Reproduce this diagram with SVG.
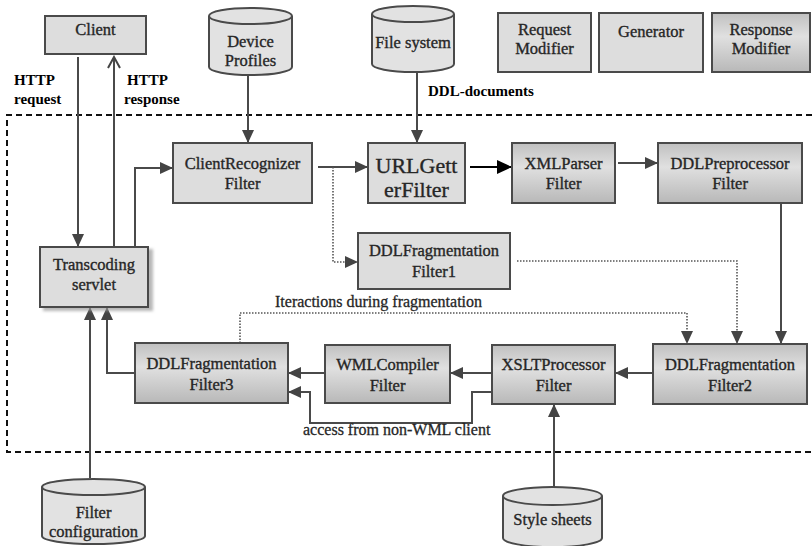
<svg xmlns="http://www.w3.org/2000/svg" width="812" height="546" viewBox="0 0 812 546">
<defs>
<style>
.box{fill:#dddddd;stroke:#4a4a4a;stroke-width:2}
.gbox{fill:url(#grad);stroke:#4a4a4a;stroke-width:2}
.cyl{fill:#e2e2e2;stroke:#4a4a4a;stroke-width:2}
.t{font-family:"Liberation Serif","Times New Roman",serif;font-size:16.5px;fill:#262626;stroke:#262626;stroke-width:0.35;text-anchor:middle}
.big{font-size:22px}
.lbl{font-family:"Liberation Serif","Times New Roman",serif;font-size:15px;font-weight:bold;fill:#000}
.note{font-family:"Liberation Serif","Times New Roman",serif;font-size:16px;fill:#262626;stroke:#262626;stroke-width:0.3}
.c{fill:none;stroke:#4a4a4a;stroke-width:2}
.d{fill:none;stroke:#555;stroke-width:1.6;stroke-dasharray:1.5 1.5}
.b{fill:none;stroke:#000;stroke-width:2}
</style>
<linearGradient id="grad" x1="0" y1="0" x2="0" y2="1">
<stop offset="0" stop-color="#c0c0c0"/>
<stop offset="0.4" stop-color="#e0e0e0"/>
<stop offset="1" stop-color="#b8b8b8"/>
</linearGradient>
<marker id="ah" markerWidth="14" markerHeight="12" refX="13" refY="6" orient="auto" markerUnits="userSpaceOnUse">
<path d="M0,0 L13,6 L0,12 z" fill="#444"/>
</marker>
<marker id="ahb" markerWidth="16" markerHeight="14" refX="15" refY="7" orient="auto" markerUnits="userSpaceOnUse">
<path d="M0,0 L15,7 L0,14 z" fill="#000"/>
</marker>
<marker id="ao" markerWidth="14" markerHeight="14" refX="12" refY="7" orient="auto" markerUnits="userSpaceOnUse">
<path d="M1,1 L12,7 L1,13" fill="none" stroke="#444" stroke-width="2"/>
</marker>
<filter id="sh" x="-10%" y="-10%" width="130%" height="130%">
<feDropShadow dx="4" dy="3" stdDeviation="1.5" flood-color="#999" flood-opacity="0.7"/>
</filter>
</defs>

<path d="M812,115 H7 V452 H812" fill="none" stroke="#111" stroke-width="2" stroke-dasharray="6 4"/>

<g id="connectors">
<path class="c" d="M78,57 V247" marker-end="url(#ah)"/>
<path class="c" d="M114,247 V57" marker-end="url(#ao)"/>
<path class="c" d="M135,247 V168 H173" marker-end="url(#ah)"/>
<path class="c" d="M248,75 V143" marker-end="url(#ah)"/>
<path class="c" d="M417,72 V143" marker-end="url(#ah)"/>
<path class="c" d="M318,167 H368" marker-end="url(#ah)"/>
<path class="d" d="M333,167 V262 H358" marker-end="url(#ah)"/>
<path class="b" d="M470,167 H512" stroke-width="2.5" marker-end="url(#ahb)"/>
<path class="c" d="M618,163 H658" marker-end="url(#ah)"/>
<path class="c" d="M781,203 V344" marker-end="url(#ah)"/>
<path class="d" d="M517,261 H737 V344" marker-end="url(#ah)"/>
<path class="d" d="M240,343 V313 H687 V344" marker-end="url(#ah)"/>
<path class="c" d="M653,373 H615" marker-end="url(#ah)"/>
<path class="c" d="M492,373 H450" marker-end="url(#ah)"/>
<path class="c" d="M325,373 H288" marker-end="url(#ah)"/>
<path class="c" d="M492,392 H472 V423 H310 V392 H288" marker-end="url(#ah)"/>
<path class="c" d="M135,373 H107 V307" marker-end="url(#ah)"/>
<path class="c" d="M90,478 V307" marker-end="url(#ah)"/>
<path class="c" d="M554,487 V404" marker-end="url(#ah)"/>
</g>

<g id="labels">
<text class="lbl" x="14" y="85">HTTP</text>
<text class="lbl" x="14" y="104">request</text>
<text class="lbl" x="127" y="85">HTTP</text>
<text class="lbl" x="124" y="104">response</text>
<text class="lbl" x="428" y="96">DDL-documents</text>
<text class="note" x="275" y="307">Iteractions during fragmentation</text>
<text class="note" x="303" y="435">access from non-WML client</text>
</g>

<g id="client"><rect class="box" x="45" y="16" width="101" height="38"/><text class="t" x="95.5" y="35">Client</text></g>

<g id="device-profiles">
<path class="cyl" d="M209,16 A41.5,8 0 0 1 292,16 V67 A41.5,8 0 0 1 209,67 Z"/>
<path class="cyl" d="M209,16 A41.5,8 0 0 0 292,16" fill="none"/>
<text class="t" x="250.5" y="47">Device</text><text class="t" x="250.5" y="66">Profiles</text>
</g>

<g id="file-system">
<path class="cyl" d="M372,14 A41,8 0 0 1 454,14 V64 A41,8 0 0 1 372,64 Z"/>
<path class="cyl" d="M372,14 A41,8 0 0 0 454,14" fill="none"/>
<text class="t" x="413" y="48">File system</text>
</g>

<g id="request-modifier"><rect class="box" x="498" y="13" width="93" height="59"/><text class="t" x="544.5" y="35">Request</text><text class="t" x="544.5" y="54">Modifier</text></g>
<g id="generator"><rect class="box" x="599" y="13" width="104" height="59"/><text class="t" x="651" y="37">Generator</text></g>
<g id="response-modifier"><rect class="gbox" x="712" y="13" width="98" height="59"/><text class="t" x="761" y="35">Response</text><text class="t" x="761" y="54">Modifier</text></g>

<g id="transcoding-servlet"><rect class="box" x="40" y="247" width="108" height="60" filter="url(#sh)"/><text class="t" x="94" y="270">Transcoding</text><text class="t" x="94" y="290">servlet</text></g>

<g id="client-recognizer"><rect class="box" x="173" y="143" width="139" height="60"/><text class="t" x="242.5" y="169">ClientRecognizer</text><text class="t" x="242.5" y="189">Filter</text></g>

<g id="urlgetter"><rect class="box" x="368" y="143" width="97" height="60"/><text class="t big" x="416.5" y="173">URLGett</text><text class="t big" x="416.5" y="197">erFilter</text></g>

<g id="xmlparser"><rect class="gbox" x="512" y="143" width="103" height="60"/><text class="t" x="563.5" y="169">XMLParser</text><text class="t" x="563.5" y="189">Filter</text></g>

<g id="ddlpreprocessor"><rect class="gbox" x="658" y="143" width="144" height="60"/><text class="t" x="730" y="169">DDLPreprocessor</text><text class="t" x="730" y="189">Filter</text></g>

<g id="ddlfragmentation1"><rect class="box" x="358" y="233" width="152" height="56"/><text class="t" x="434" y="256">DDLFragmentation</text><text class="t" x="434" y="277">Filter1</text></g>

<g id="ddlfragmentation2"><rect class="gbox" x="653" y="344" width="154" height="60"/><text class="t" x="730" y="370">DDLFragmentation</text><text class="t" x="730" y="391">Filter2</text></g>

<g id="xsltprocessor"><rect class="gbox" x="492" y="345" width="123" height="59"/><text class="t" x="553.5" y="370">XSLTProcessor</text><text class="t" x="553.5" y="391">Filter</text></g>

<g id="wmlcompiler"><rect class="gbox" x="325" y="345" width="125" height="58"/><text class="t" x="387.5" y="370">WMLCompiler</text><text class="t" x="387.5" y="391">Filter</text></g>

<g id="ddlfragmentation3"><rect class="gbox" x="135" y="343" width="153" height="60"/><text class="t" x="211.5" y="369">DDLFragmentation</text><text class="t" x="211.5" y="390">Filter3</text></g>

<g id="filter-configuration">
<path class="cyl" d="M42,487 A51.5,8 0 0 1 145,487 V536 A51.5,8 0 0 1 42,536 Z"/>
<path class="cyl" d="M42,487 A51.5,8 0 0 0 145,487" fill="none"/>
<text class="t" x="93.5" y="518">Filter</text><text class="t" x="93.5" y="537">configuration</text>
</g>

<g id="style-sheets">
<path class="cyl" d="M503,496 A49.5,9 0 0 1 602,496 V538 A49.5,9 0 0 1 503,538 Z"/>
<path class="cyl" d="M503,496 A49.5,9 0 0 0 602,496" fill="none"/>
<text class="t" x="552.5" y="525">Style sheets</text>
</g>
</svg>
